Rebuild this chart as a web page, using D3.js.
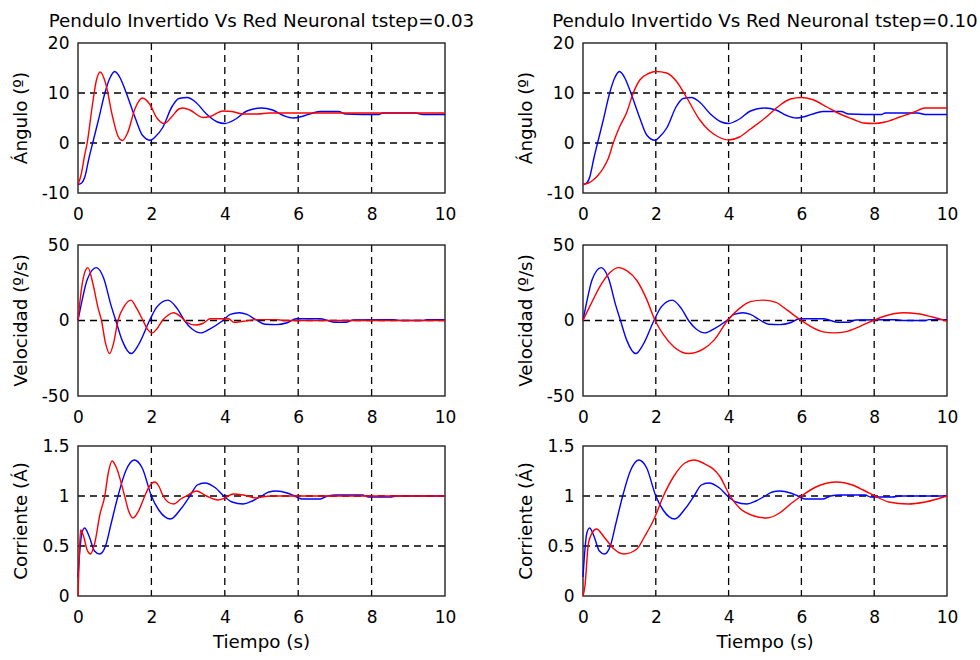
<!DOCTYPE html>
<html>
<head>
<meta charset="utf-8">
<script src="https://cdn.jsdelivr.net/npm/d3@7"></script>
<style>
  html, body { margin: 0; padding: 0; background: #fff; }
  svg { display: block; }
  text { font-family: "DejaVu Sans", sans-serif; fill: #000; }
</style>
</head>
<body>
<svg id="chart" width="980" height="660"></svg>
<script>
// ---- Time axis ----
const tiempoTicks = [0, 2, 4, 6, 8, 10];

// ---- Panel titles (one per column) ----
const titulos = [
  "Pendulo Invertido Vs Red Neuronal tstep=0.03",
  "Pendulo Invertido Vs Red Neuronal tstep=0.10"
];

// ---- Row definitions: label, y range, y ticks, horizontal grid lines ----
const etiquetasY = ["Ángulo (º)", "Velocidad (º/s)", "Corriente (Á)"];
const dominiosY = [[-10, 20], [-50, 50], [0, 1.5]];
const ticksY = [[-10, 0, 10, 20], [-50, 0, 50], [0, 0.5, 1, 1.5]];
const rejillaY = [[0, 10], [0], [0.5, 1]];

// ---- Inverted pendulum reference response (blue), [t, value] ----
const penduloAngulo = [
  [0, -8.3], [0.1, -8.0], [0.19, -6.7], [0.3, -3.0], [0.4, 0], [0.56, 4.7], [0.74, 10.2],
  [0.87, 13.0], [1.0, 14.3], [1.15, 13.0], [1.29, 10.5], [1.56, 5.0], [1.75, 1.6], [1.98, 0.55],
  [2.1, 1.2], [2.3, 3.0], [2.57, 7.4], [2.75, 8.9], [2.98, 9.1], [3.2, 8.2], [3.5, 5.8],
  [3.8, 4.2], [4.0, 3.9], [4.3, 4.8], [4.6, 6.4], [5.0, 7.0], [5.3, 6.6], [5.6, 5.5],
  [5.86, 5.0], [6.1, 5.3], [6.4, 6.0], [6.6, 6.3], [7.1, 6.3], [7.3, 5.8], [8.2, 5.7],
  [8.3, 6.0], [9.2, 6.0], [9.4, 5.7], [10, 5.7]
];
const penduloVelocidad = [
  [0, 0], [0.1, 12], [0.25, 27], [0.5, 35], [0.7, 28], [0.9, 10], [1.03, 0], [1.2, -13],
  [1.45, -21.9], [1.65, -16], [1.95, 0], [2.15, 9], [2.45, 13.5], [2.7, 8], [2.9, 0],
  [3.1, -5.5], [3.35, -8.2], [3.6, -5.5], [3.95, 0], [4.15, 4], [4.4, 5.1], [4.6, 4],
  [4.85, 0.5], [5.1, -2.5], [5.4, -2.7], [5.7, -1.5], [5.95, 1.2], [6.6, 1.2], [6.8, 0],
  [7.0, -1.2], [7.3, -1.2], [7.5, 0.3], [8.6, 0.5], [8.8, 0], [9.4, 0], [9.5, 0.6], [10, 0.6]
];
const penduloCorriente = [
  [0, 0.19], [0.05, 0.45], [0.1, 0.62], [0.18, 0.68], [0.3, 0.6], [0.45, 0.45], [0.59, 0.42],
  [0.75, 0.5], [0.9, 0.72], [1.09, 1.0], [1.3, 1.25], [1.53, 1.36], [1.75, 1.28], [2.0, 1.0],
  [2.2, 0.86], [2.52, 0.77], [2.8, 0.87], [3.05, 1.0], [3.25, 1.11], [3.45, 1.13], [3.75, 1.08],
  [3.97, 1.0], [4.2, 0.94], [4.5, 0.92], [4.75, 0.95], [5.0, 1.0], [5.2, 1.04], [5.4, 1.05],
  [5.7, 1.03], [5.9, 1.0], [6.1, 0.97], [6.6, 0.97], [6.8, 1.0], [7.05, 1.01], [7.75, 1.01],
  [7.9, 0.99], [8.5, 0.99], [8.7, 1.0], [10, 1.0]
];

// ---- Neural network response, tstep = 0.03 (red, left column) ----
const redAngulo003 = [
  [0, -8.3], [0.08, -6.5], [0.18, -2.5], [0.25, 0], [0.4, 8], [0.5, 12.5], [0.61, 14.2],
  [0.75, 12], [0.95, 5], [1.1, 1.2], [1.21, 0.5], [1.35, 2], [1.55, 6.8], [1.75, 9.0],
  [1.95, 7.8], [2.15, 5], [2.35, 3.9], [2.55, 5.2], [2.75, 6.8], [2.86, 7.0], [3.05, 6.6],
  [3.4, 5.1], [3.6, 5.3], [3.95, 6.4], [4.2, 6.3], [4.5, 5.8], [4.9, 5.8], [5.2, 6.0], [10, 6.0]
];
const redVelocidad003 = [
  [0, 0], [0.1, 22], [0.2, 33], [0.27, 35], [0.4, 25], [0.55, 8], [0.64, 0], [0.75, -15],
  [0.86, -21.9], [0.97, -15], [1.09, 0], [1.25, 9], [1.44, 13.5], [1.6, 8], [1.77, 0],
  [1.9, -6], [2.03, -8.2], [2.15, -5.5], [2.3, 0], [2.45, 3.5], [2.6, 5.1], [2.8, 2.5],
  [2.95, -1], [3.2, -3], [3.4, -2], [3.6, 1.2], [4.1, 1.2], [4.25, -1.2], [4.5, -0.5],
  [4.9, 0.6], [5.4, 0.6], [5.6, 0], [10, 0]
];
const redCorriente003 = [
  [0, 0], [0.03, 0.35], [0.07, 0.66], [0.15, 0.6], [0.25, 0.46], [0.34, 0.42], [0.45, 0.52],
  [0.6, 0.82], [0.73, 1.0], [0.82, 1.22], [0.93, 1.35], [1.05, 1.28], [1.27, 1.0], [1.38, 0.85],
  [1.5, 0.78], [1.65, 0.85], [1.82, 1.0], [1.95, 1.1], [2.09, 1.14], [2.2, 1.1], [2.32, 1.0],
  [2.45, 0.94], [2.61, 0.92], [2.8, 0.97], [2.95, 1.0], [3.23, 1.05], [3.5, 1.0], [3.82, 0.96],
  [4.0, 0.98], [4.23, 1.02], [4.5, 1.01], [4.86, 0.98], [5.0, 0.99], [5.3, 1.0], [10, 1.0]
];

// ---- Neural network response, tstep = 0.10 (red, right column) ----
const redAngulo010 = [
  [0, -8.3], [0.15, -8.0], [0.28, -7.4], [0.42, -6.4], [0.56, -5.0], [0.7, -3.0], [0.83, 0],
  [1.01, 3.3], [1.2, 6.1], [1.38, 10], [1.56, 12.6], [1.8, 13.9], [2.0, 14.3], [2.3, 14.0],
  [2.57, 12.3], [2.84, 9.2], [3.2, 4.7], [3.45, 2.6], [3.7, 1.3], [4.0, 0.6], [4.3, 1.2],
  [4.6, 2.8], [5.0, 5], [5.4, 7.5], [5.7, 8.8], [6.0, 9.1], [6.3, 8.7], [6.7, 7.2], [7.0, 6],
  [7.4, 4.8], [7.7, 4.0], [8.0, 3.9], [8.3, 4.2], [8.7, 5.2], [9.1, 6.2], [9.4, 7.0], [10, 7.0]
];
const redVelocidad010 = [
  [0, 0], [0.2, 10], [0.5, 24], [0.75, 32], [0.98, 35], [1.2, 33], [1.48, 26.5], [1.75, 14],
  [1.98, 0], [2.2, -9], [2.5, -17.5], [2.9, -21.9], [3.3, -19], [3.6, -13], [3.97, 0], [4.3, 8],
  [4.6, 12.5], [4.95, 13.5], [5.3, 12], [5.6, 7], [6.0, 0], [6.3, -4.5], [6.6, -7.5], [6.9, -8.2],
  [7.2, -7.5], [7.6, -4], [7.97, 0], [8.3, 3], [8.8, 5.1], [9.2, 4.5], [9.6, 2.3], [10, -0.3]
];
const redCorriente010 = [
  [0, 0], [0.05, 0.09], [0.15, 0.53], [0.25, 0.63], [0.37, 0.67], [0.6, 0.58], [0.85, 0.47],
  [1.12, 0.42], [1.48, 0.47], [1.7, 0.6], [1.94, 0.76], [2.21, 1.0], [2.5, 1.2], [2.8, 1.33],
  [3.05, 1.36], [3.3, 1.33], [3.77, 1.19], [4.04, 1.0], [4.3, 0.88], [4.7, 0.8], [5.05, 0.78],
  [5.4, 0.83], [5.7, 0.92], [6.0, 1.0], [6.4, 1.09], [6.97, 1.14], [7.4, 1.11], [7.7, 1.06],
  [8.02, 1.0], [8.4, 0.94], [8.93, 0.92], [9.4, 0.94], [10, 1.0]
];

// Series per row: reference first, network response for each column
const seriesPendulo = [penduloAngulo, penduloVelocidad, penduloCorriente];
const seriesRed = [
  [redAngulo003, redVelocidad003, redCorriente003],
  [redAngulo010, redVelocidad010, redCorriente010]
];

// ---- Layout ----
const columnas = [{ x0: 78, x1: 445 }, { x0: 583, x1: 947 }];
const filas = [{ y0: 43, y1: 193 }, { y0: 245, y1: 396 }, { y0: 446, y1: 596 }];

const svg = d3.select("#chart");
const fmt = d => String(d);

columnas.forEach((col, ci) => {
  const x = d3.scaleLinear().domain([0, 10]).range([col.x0, col.x1]);

  // column title
  svg.append("text")
    .attr("x", (col.x0 + col.x1) / 2)
    .attr("y", 26.5)
    .attr("text-anchor", "middle")
    .style("font-size", "18.3px")
    .text(titulos[ci]);

  filas.forEach((fila, ri) => {
    const y = d3.scaleLinear().domain(dominiosY[ri]).range([fila.y1, fila.y0]);
    const g = svg.append("g");
    const clipId = `clip-${ci}-${ri}`;
    g.append("clipPath").attr("id", clipId)
      .append("rect")
      .attr("x", col.x0 - 1).attr("y", fila.y0 - 1)
      .attr("width", col.x1 - col.x0 + 2).attr("height", fila.y1 - fila.y0 + 2);

    // dashed grid
    const grid = g.append("g")
      .attr("stroke", "#000")
      .attr("stroke-width", 1.3)
      .attr("stroke-dasharray", "7,5");
    grid.selectAll("line.v")
      .data(tiempoTicks.filter(t => t > 0 && t < 10))
      .join("line")
      .attr("x1", d => x(d)).attr("x2", d => x(d))
      .attr("y1", fila.y0).attr("y2", fila.y1);
    grid.selectAll("line.h")
      .data(rejillaY[ri])
      .join("line")
      .attr("x1", col.x0).attr("x2", col.x1)
      .attr("y1", d => y(d)).attr("y2", d => y(d));

    // axes box
    g.append("rect")
      .attr("x", col.x0).attr("y", fila.y0)
      .attr("width", col.x1 - col.x0).attr("height", fila.y1 - fila.y0)
      .attr("fill", "none").attr("stroke", "#222").attr("stroke-width", 1.4);

    // x tick labels
    const ax = g.append("g")
      .attr("transform", `translate(0,${fila.y1})`)
      .call(d3.axisBottom(x).tickValues(tiempoTicks).tickFormat(fmt).tickSize(0).tickPadding(14.5));
    ax.select(".domain").remove();
    ax.selectAll("text").style("font-size", "17px").attr("fill", "#000");

    // y tick labels
    const ay = g.append("g")
      .attr("transform", `translate(${col.x0},0)`)
      .call(d3.axisLeft(y).tickValues(ticksY[ri]).tickFormat(fmt).tickSize(0).tickPadding(8.5));
    ay.select(".domain").remove();
    ay.selectAll("text").style("font-size", "17px").attr("fill", "#000");

    // y label
    g.append("text")
      .attr("transform", `translate(${col.x0 - 51},${(fila.y0 + fila.y1) / 2}) rotate(-90)`)
      .attr("text-anchor", "middle")
      .style("font-size", "18.3px")
      .text(etiquetasY[ri]);

    // curves
    const linea = d3.line()
      .x(d => x(d[0]))
      .y(d => y(d[1]))
      .curve(d3.curveMonotoneX);
    const curvas = g.append("g").attr("clip-path", `url(#${clipId})`)
      .attr("fill", "none").attr("stroke-width", 1.4).attr("stroke-linejoin", "round");
    curvas.append("path").attr("d", linea(seriesPendulo[ri])).attr("stroke", "#0000ff");
    curvas.append("path").attr("d", linea(seriesRed[ci][ri])).attr("stroke", "#ff0000");
  });

  // time label under the bottom row
  svg.append("text")
    .attr("x", (col.x0 + col.x1) / 2)
    .attr("y", 648)
    .attr("text-anchor", "middle")
    .style("font-size", "18.3px")
    .text("Tiempo (s)");
});
</script>
</body>
</html>
